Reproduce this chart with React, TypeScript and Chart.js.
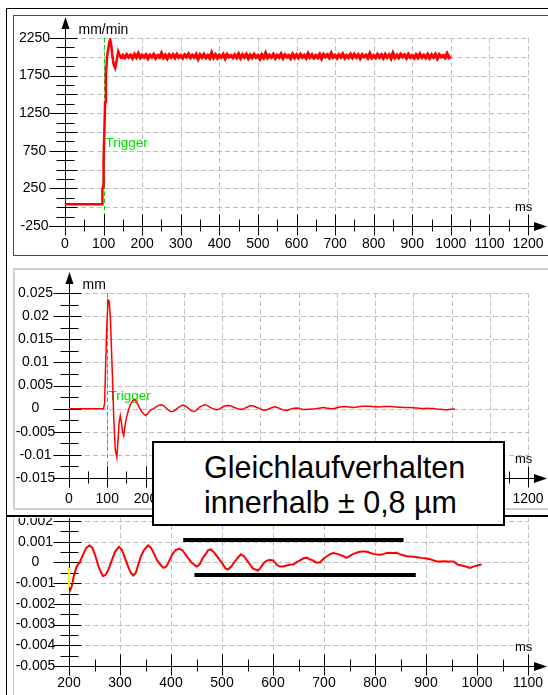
import React, { useEffect, useRef } from "react";
import { Chart, registerables } from "chart.js";

Chart.register(...registerables);

// ---------------- data ----------------
// Panel 1: velocity (mm/min) over time (ms)
const velHeadTime = [0, 96, 97, 99, 100, 102, 104, 106, 109, 112, 115, 117.5, 120, 123, 126, 130, 134, 138, 142, 146];
const velHeadValue = [40, 40, 240, 280, 650, 1000, 1400, 1750, 2000, 2100, 2200, 2225, 2150, 2000, 1900, 1850, 1950, 2070, 2020, 1975];
const velTailStart = 150; // ms, sampled every velTailStep ms
const velTailStep = 5;
const velTailValue = [
  2015, 1990, 2025, 1995, 2020, 1985, 2030, 1995, 2040, 1990,
  2020, 1995, 2025, 1980, 2020, 2000, 2030, 1985, 2015, 1995,
  2045, 1990, 2020, 1980, 2025, 1995, 2025, 1990, 2030, 1995,
  2015, 1985, 2025, 2000, 2035, 1990, 2020, 1995, 2030, 1975,
  2025, 1995, 2030, 1990, 2015, 1985, 2050, 1990, 2025, 1985,
  2020, 1995, 2030, 1980, 2030, 2000, 2015, 1990, 2025, 1990,
  2035, 1985, 2025, 1995, 2030, 1980, 2020, 1990, 2030, 1995,
  2015, 1975, 2025, 1990, 2045, 1990, 2020, 1995, 2030, 1985,
  2020, 1995, 2035, 1985, 2025, 2000, 2015, 1980, 2030, 1990,
  2025, 1990, 2030, 1995, 2020, 1985, 2040, 1995, 2025, 1985,
  2015, 1990, 2030, 1980, 2030, 2000, 2025, 1990, 2045, 1995,
  2020, 1985, 2025, 1995, 2035, 1985, 2015, 1990, 2030, 1990,
  2030, 1995, 2025, 1980, 2025, 2000, 2020, 1985, 2040, 1990,
  2015, 1990, 2030, 1995, 2025, 1985, 2030, 1995, 2025, 1980,
  2045, 1990, 2020, 1990, 2030, 2000, 2025, 1985, 2030, 1995,
  2015, 1985, 2025, 1990, 2035, 1995, 2020, 1990, 2030, 1985,
  2025, 1995, 2030, 1980, 2025, 2000, 2015, 1990, 2040, 1990,
  2005,
];

// Panels 2 and 3: position deviation (mm) over time (ms)
const posTime = [
  0, 90, 93, 96, 99, 102, 105, 108, 111, 114, 117, 121, 125, 128, 131, 134, 137, 140, 143, 146,
  150, 155, 160, 166, 172, 178, 184, 190, 196, 200, 205, 210, 215, 221, 228, 234, 240, 246, 252, 258,
  263, 267, 272, 278, 284, 290, 298, 304, 310, 316, 321, 326, 331, 336, 341, 347, 355, 361, 367, 373,
  379, 385, 391, 397, 403, 409, 416, 422, 428, 434, 440, 445, 450, 456, 462, 468, 473, 478, 484, 490,
  496, 502, 507, 512, 518, 524, 530, 537, 543, 549, 555, 561, 571, 577, 583, 589, 594, 600, 607, 613,
  620, 627, 634, 640, 646, 653, 660, 666, 672, 678, 684, 692, 700, 706, 712, 718, 728, 738, 744, 750,
  756, 762, 768, 774, 780, 786, 792, 798, 804, 810, 816, 822, 829, 835, 842, 848, 855, 862, 869, 876,
  883, 890, 898, 908, 915, 921, 929, 936, 943, 954, 962, 970, 978, 986, 993, 1000, 1009,
];
const posValue = [
  0, 0, 0.001, 0.01, 0.018, 0.0235, 0.0232, 0.02, 0.013, 0.006, -0.002, -0.009, -0.0105, -0.007, -0.003, -0.0015, -0.003, -0.005, -0.0058, -0.004,
  -0.002, -0.0005, 0.0008, 0.0017, 0.002, 0.0012, 0.0002, -0.0007, -0.0012, -0.00145, -0.0012, -0.0006, -0.0002, 0, 0.0004, 0.0007, 0.00082, 0.0007, 0.0003, -0.0002,
  -0.0005, -0.00066, -0.0006, -0.0003, 0.0001, 0.0005, 0.00076, 0.0006, 0.0002, -0.0002, -0.0005, -0.00063, -0.0005, -0.0001, 0.0003, 0.0006, 0.00082, 0.0007, 0.0004, 0.0001,
  -0.0001, -0.00026, -0.0002, 0.0001, 0.0004, 0.0006, 0.00066, 0.0006, 0.0004, 0.0002, 0, -0.0001, -0.0002, -0.0001, 0.0002, 0.0004, 0.0006, 0.00063, 0.0005, 0.0003,
  0.0001, -0.0001, -0.0003, -0.00034, -0.0002, 0, 0.0002, 0.00039, 0.0003, 0.0001, -0.0001, -0.0003, -0.00039, -0.0002, 0, 0.0001, 0.00012, 0.0001, -0.0001, -0.0002,
  -0.0002, -0.00015, -0.0001, -0.0001, 0, 0.0001, 0.0002, 0.00023, 0.00015, 0.0001, 0, 0, 0.0002, 0.0003, 0.0004, 0.00045, 0.0004, 0.0003, 0.00022, 0.0003,
  0.0004, 0.00045, 0.0005, 0.00053, 0.00053, 0.0005, 0.00045, 0.0004, 0.00038, 0.00037, 0.0004, 0.00045, 0.00047, 0.00045, 0.00047, 0.0004, 0.00035, 0.0003, 0.00029, 0.00027,
  0.00025, 0.00022, 0.0002, 0.00015, 0.0001, 0.00005, 0.00005, 0.00006, 0.00005, 0.00005, -0.0001, -0.00015, -0.0002, -0.00027, -0.0002, -0.00015, -0.0001,
];

// tolerance band (black bars) and cursor (yellow) in panel 3
const bandUpperTime = [424, 856];
const bandUpperValue = [0.00108, 0.00108];
const bandLowerTime = [446, 880];
const bandLowerValue = [-0.00061, -0.00061];
const cursorTime = [200, 200];
const cursorValue = [-0.00027, -0.0012];
const triggerTime = 100;

// tick labels
const p1XTicks = [0, 100, 200, 300, 400, 500, 600, 700, 800, 900, 1000, 1100, 1200];
const p1XLabels = ["0", "100", "200", "300", "400", "500", "600", "700", "800", "900", "1000", "1100", "1200"];
const p1YTicks = [-250, 250, 750, 1250, 1750, 2250];
const p1YLabels = ["-250", "250", "750", "1250", "1750", "2250"];
const p2XTicks = [0, 100, 200, 300, 400, 500, 600, 700, 800, 900, 1000, 1100, 1200];
const p2XLabels = ["0", "100", "200", "300", "400", "500", "600", "700", "800", "900", "1000", "1100", "1200"];
const p2YTicks = [-0.015, -0.01, -0.005, 0, 0.005, 0.01, 0.015, 0.02, 0.025];
const p2YLabels = ["-0.015", "-0.01", "-0.005", "0", "0.005", "0.01", "0.015", "0.02", "0.025"];
const p3XTicks = [200, 300, 400, 500, 600, 700, 800, 900, 1000, 1100];
const p3XLabels = ["200", "300", "400", "500", "600", "700", "800", "900", "1000", "1100"];
const p3YTicks = [-0.005, -0.004, -0.003, -0.002, -0.001, 0, 0.001, 0.002];
const p3YLabels = ["-0.005", "-0.004", "-0.003", "-0.002", "-0.001", "0", "0.001", "0.002"];

// ---------------- styling ----------------
const FONT = '"Liberation Sans", Arial, sans-serif';
const RED = "#ff0000";
const GRID = "#c0c0c0";
const GREEN = "#00dd00";

type PanelCfg = {
  xMin: number; xMax: number; yMin: number; yMax: number;
  xTicks: number[]; xLabels: string[]; xMinorStep: number; xGridStep: number;
  yTicks: number[]; yLabels: string[]; yMinorStep: number; yGridStep: number;
  unitY: string; trigger: boolean; triggerDy: number;
  yLabelOffset: number; xLabelOffset: number; gridTopExtra: number;
};

function near(a: number, b: number, eps: number) {
  return Math.abs(a - b) < eps;
}

function scopePlugin(cfg: PanelCfg) {
  return {
    id: "scopeAxes",
    beforeDatasetsDraw(chart: any) {
      const ctx: CanvasRenderingContext2D = chart.ctx;
      const a = chart.chartArea;
      const xs = chart.scales.x;
      const ys = chart.scales.y;
      const X = (v: number) => xs.getPixelForValue(v);
      const Y = (v: number) => ys.getPixelForValue(v);
      const snap = (p: number) => Math.round(p) + 0.5;
      const line = (x1: number, y1: number, x2: number, y2: number) => {
        ctx.beginPath();
        ctx.moveTo(x1, y1);
        ctx.lineTo(x2, y2);
        ctx.stroke();
      };
      ctx.save();

      // dashed grid
      ctx.strokeStyle = GRID;
      ctx.lineWidth = 1;
      ctx.setLineDash([5, 3]);
      const nxg = Math.round((cfg.xMax - cfg.xMin) / cfg.xGridStep);
      for (let i = 1; i <= nxg; i++) {
        const px = snap(X(cfg.xMin + i * cfg.xGridStep));
        line(px, a.top - cfg.gridTopExtra, px, a.bottom);
      }
      const nyg = Math.round((cfg.yMax - cfg.yMin) / cfg.yGridStep);
      for (let i = 1; i <= nyg; i++) {
        const py = snap(Y(cfg.yMin + i * cfg.yGridStep));
        line(a.left, py, a.right, py);
      }

      // trigger marker
      if (cfg.trigger) {
        ctx.strokeStyle = GREEN;
        ctx.setLineDash([4, 3]);
        const px = snap(X(triggerTime));
        line(px, a.top, px, a.bottom + 9);
        ctx.setLineDash([]);
        ctx.fillStyle = GREEN;
        ctx.font = `13.5px ${FONT}`;
        ctx.textAlign = "left";
        ctx.textBaseline = "middle";
        ctx.fillText("Trigger", px + 1, a.top + cfg.triggerDy);
      }

      // axes
      ctx.setLineDash([]);
      ctx.strokeStyle = "#000";
      ctx.fillStyle = "#000";
      const ax = snap(a.left);
      const ay = snap(a.bottom);
      line(ax, a.top - 10, ax, ay + 9);
      line(a.left - 16, ay, a.right + 7, ay);
      ctx.beginPath();
      ctx.moveTo(ax - 4, a.top - 9);
      ctx.lineTo(ax + 4, a.top - 9);
      ctx.lineTo(ax, a.top - 21);
      ctx.closePath();
      ctx.fill();
      ctx.beginPath();
      ctx.moveTo(a.right + 6, ay - 4.5);
      ctx.lineTo(a.right + 6, ay + 4.5);
      ctx.lineTo(a.right + 19, ay);
      ctx.closePath();
      ctx.fill();

      // y ticks
      const yEps = cfg.yMinorStep * 1e-3;
      const nyt = Math.round((cfg.yMax - cfg.yMin) / cfg.yMinorStep);
      for (let i = 0; i <= nyt; i++) {
        const v = cfg.yMin + i * cfg.yMinorStep;
        const labeled = cfg.yTicks.some((t) => near(t, v, yEps));
        const r = (v - cfg.yMin) / cfg.yGridStep;
        const onGrid = near(r, Math.round(r), 1e-6);
        const l = labeled ? 16 : 9;
        const rr = labeled || onGrid ? 12 : 9;
        const py = snap(Y(v));
        line(ax - l, py, ax + rr, py);
      }
      // x ticks
      const xEps = cfg.xMinorStep * 1e-3;
      const nxt = Math.round((cfg.xMax - cfg.xMin) / cfg.xMinorStep);
      for (let i = 1; i <= nxt; i++) {
        const v = cfg.xMin + i * cfg.xMinorStep;
        const major = cfg.xTicks.some((t) => near(t, v, xEps));
        const px = snap(X(v));
        if (major) line(px, ay - 12, px, ay + 9);
        else line(px, ay - 7, px, ay + 5);
      }

      // tick labels
      ctx.fillStyle = "#000";
      ctx.font = `14px ${FONT}`;
      ctx.textAlign = "center";
      ctx.textBaseline = "middle";
      cfg.yTicks.forEach((t, i) => ctx.fillText(cfg.yLabels[i], ax - cfg.yLabelOffset, Y(t)));
      cfg.xTicks.forEach((t, i) => ctx.fillText(cfg.xLabels[i], X(t), ay + cfg.xLabelOffset));

      // units
      ctx.textAlign = "left";
      if (cfg.unitY) ctx.fillText(cfg.unitY, ax + 13, a.top - 8);
      ctx.font = `13px ${FONT}`;
      ctx.fillText("ms", a.right - 13, ay - 19);

      ctx.restore();
    },
  };
}

function pts(t: number[], v: number[]) {
  return t.map((x, i) => ({ x, y: v[i] }));
}

type PanelProps = {
  left: number; top: number; width: number; height: number;
  padding: { left: number; right: number; top: number; bottom: number };
  cfg: PanelCfg;
  makeDatasets: () => any[];
};

function ScopePanel({ left, top, width, height, padding, cfg, makeDatasets }: PanelProps) {
  const ref = useRef<HTMLCanvasElement | null>(null);
  useEffect(() => {
    if (!ref.current) return;
    const chart = new Chart(ref.current, {
      type: "line",
      data: { datasets: makeDatasets() },
      options: {
        responsive: false,
        animation: false,
        devicePixelRatio: 1,
        layout: { padding },
        plugins: { legend: { display: false }, tooltip: { enabled: false } },
        elements: { point: { radius: 0 }, line: { tension: 0 } },
        scales: {
          x: { type: "linear", display: false, min: cfg.xMin, max: cfg.xMax },
          y: { type: "linear", display: false, min: cfg.yMin, max: cfg.yMax },
        },
      },
      plugins: [scopePlugin(cfg)],
    } as any);
    return () => chart.destroy();
  }, []);
  return (
    <canvas
      ref={ref}
      width={width}
      height={height}
      style={{ position: "absolute", left, top, width, height }}
    />
  );
}

const cfg1: PanelCfg = {
  xMin: 0, xMax: 1200, yMin: -250, yMax: 2250,
  xTicks: p1XTicks, xLabels: p1XLabels, xMinorStep: 50, xGridStep: 100,
  yTicks: p1YTicks, yLabels: p1YLabels, yMinorStep: 125, yGridStep: 250,
  unitY: "mm/min", trigger: true, triggerDy: 105,
  yLabelOffset: 31, xLabelOffset: 18, gridTopExtra: 0,
};
const cfg2: PanelCfg = {
  xMin: 0, xMax: 1200, yMin: -0.015, yMax: 0.025,
  xTicks: p2XTicks, xLabels: p2XLabels, xMinorStep: 50, xGridStep: 100,
  yTicks: p2YTicks, yLabels: p2YLabels, yMinorStep: 0.0025, yGridStep: 0.005,
  unitY: "mm", trigger: true, triggerDy: 103,
  yLabelOffset: 34, xLabelOffset: 21, gridTopExtra: 0,
};
const cfg3: PanelCfg = {
  xMin: 200, xMax: 1100, yMin: -0.005, yMax: 0.002,
  xTicks: p3XTicks, xLabels: p3XLabels, xMinorStep: 50, xGridStep: 100,
  yTicks: p3YTicks, yLabels: p3YLabels, yMinorStep: 0.0005, yGridStep: 0.001,
  unitY: "", trigger: false, triggerDy: 0,
  yLabelOffset: 34, xLabelOffset: 17, gridTopExtra: 4,
};

function velocityDatasets() {
  const last = velHeadTime.length - 1;
  const tail = [
    { x: velHeadTime[last], y: velHeadValue[last] },
    ...velTailValue.map((v, i) => ({ x: velTailStart + i * velTailStep, y: v })),
  ];
  return [
    { data: pts(velHeadTime, velHeadValue), borderColor: RED, borderWidth: 2.5, pointRadius: 0 },
    { data: tail, borderColor: RED, borderWidth: 3.5, pointRadius: 0 },
  ];
}

function positionDatasets() {
  return [
    { data: pts(posTime, posValue), borderColor: RED, borderWidth: 1.5, pointRadius: 0 },
  ];
}

function zoomDatasets() {
  return [
    { data: pts(posTime, posValue), borderColor: RED, borderWidth: 2, pointRadius: 0 },
    { data: pts(bandUpperTime, bandUpperValue), borderColor: "#000", borderWidth: 4, pointRadius: 0 },
    { data: pts(bandLowerTime, bandLowerValue), borderColor: "#000", borderWidth: 4, pointRadius: 0 },
    { data: pts(cursorTime, cursorValue), borderColor: "#ffff00", borderWidth: 2, pointRadius: 0, clip: false },
  ];
}

export default function App() {
  return (
    <div
      style={{
        position: "absolute",
        left: 0,
        top: 0,
        width: 548,
        height: 695,
        overflow: "hidden",
        background: "#fff",
        fontFamily: FONT,
      }}
    >
      {/* outer frame */}
      <div style={{ position: "absolute", left: 6, top: 8, width: 1, height: 700, background: "#000" }} />
      <div style={{ position: "absolute", left: 6, top: 8, width: 600, height: 1, background: "#000" }} />
      {/* panel 1 red frame (open to the right) */}
      <div style={{ position: "absolute", left: 13, top: 15, width: 600, height: 1, background: RED }} />
      <div style={{ position: "absolute", left: 13, top: 255, width: 600, height: 1, background: RED }} />
      <div style={{ position: "absolute", left: 13, top: 15, width: 1, height: 241, background: RED }} />
      {/* panel 2 grey frame (open to the right) */}
      <div style={{ position: "absolute", left: 13, top: 268, width: 600, height: 2, background: "#d0d0d0" }} />
      <div style={{ position: "absolute", left: 13, top: 508, width: 600, height: 2, background: "#d0d0d0" }} />
      <div style={{ position: "absolute", left: 13, top: 268, width: 2, height: 242, background: "#d0d0d0" }} />
      {/* panel 3 frame */}
      <div style={{ position: "absolute", left: 6, top: 515, width: 600, height: 2, background: "#000" }} />
      <div style={{ position: "absolute", left: 13, top: 517, width: 1, height: 200, background: "#c8c8c8" }} />

      <ScopePanel left={14} top={16} width={534} height={238}
        padding={{ left: 51, right: 20, top: 22, bottom: 28 }} cfg={cfg1} makeDatasets={velocityDatasets} />
      <ScopePanel left={15} top={270} width={533} height={238}
        padding={{ left: 54, right: 20, top: 23, bottom: 30 }} cfg={cfg2} makeDatasets={positionDatasets} />
      <ScopePanel left={14} top={518} width={534} height={177}
        padding={{ left: 55, right: 20, top: 3, bottom: 29 }} cfg={cfg3} makeDatasets={zoomDatasets} />

      {/* annotation box */}
      <div
        style={{
          position: "absolute",
          left: 152,
          top: 441,
          width: 353,
          height: 85,
          boxSizing: "border-box",
          border: "2px solid #000",
          background: "#fff",
          fontFamily: FONT,
          fontSize: 30.5,
          lineHeight: "35px",
          paddingTop: 7,
          paddingLeft: 50,
          color: "#000",
          whiteSpace: "nowrap",
        }}
      >
        <div>Gleichlaufverhalten</div>
        <div>innerhalb ± 0,8 µm</div>
      </div>
    </div>
  );
}
